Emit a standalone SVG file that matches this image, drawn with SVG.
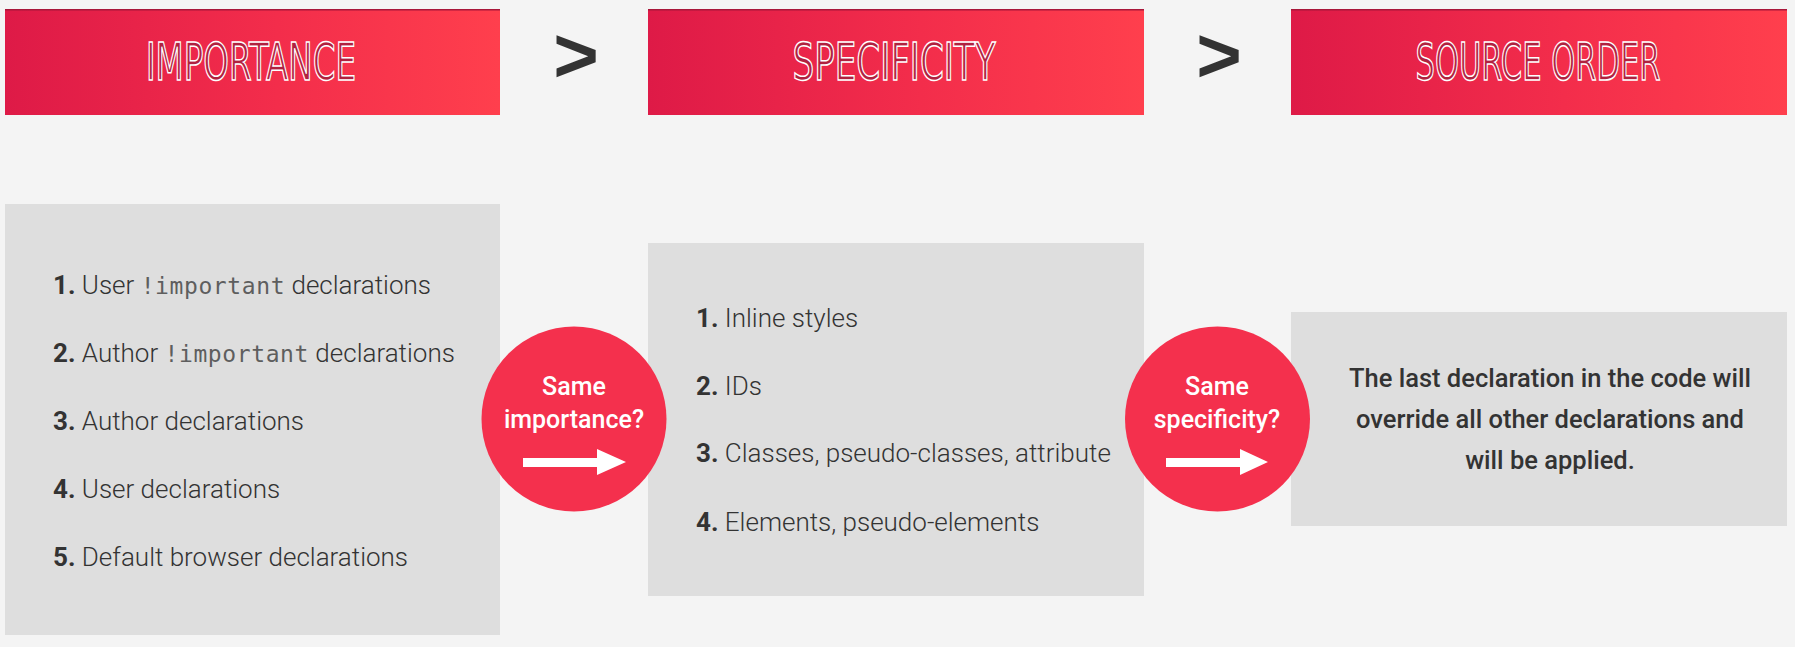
<svg xmlns="http://www.w3.org/2000/svg" width="1795" height="647" viewBox="0 0 1795 647">
  <defs>
    <linearGradient id="hdrGrad" x1="0" y1="0" x2="1" y2="0">
      <stop offset="0" stop-color="#de1a47"/>
      <stop offset="0.55" stop-color="#f32d4b"/>
      <stop offset="1" stop-color="#ff3f4d"/>
    </linearGradient>
  </defs>
  <style>
    .hdr { fill: url(#hdrGrad); }
    .hdr-edge { fill: #a8173a; }
    .hdr-txt { font-family: "Liberation Sans Narrow", "DejaVu Sans Condensed", "Liberation Sans", sans-serif; font-size: 52px; fill: #b0213f; stroke: #ffffff; stroke-width: 1.5; text-anchor: middle; }
    .gt { font-family: "Liberation Sans", Arial, sans-serif; font-weight: 700; font-size: 78px; fill: #333333; text-anchor: middle; }
    .panel { fill: #dedede; }
    .item { font-family: Roboto, "Noto Sans", sans-serif; font-weight: 300; font-size: 26px; fill: #333333; }
    .num { font-weight: 700; }
    .code { font-family: "DejaVu Sans Mono", "Liberation Mono", monospace; font-size: 23px; fill: #5e5e5e; font-weight: 400; letter-spacing: 0.6px; }
    .bubble { fill: #f4304d; }
    .btxt { font-family: Roboto, "Noto Sans", sans-serif; font-weight: 500; font-size: 25px; fill: #ffffff; text-anchor: middle; }
    .arrow { fill: #ffffff; }
    .note { font-family: Roboto, "Noto Sans", sans-serif; font-weight: 500; font-size: 25.5px; fill: #333333; text-anchor: middle; }
  </style>

  <rect width="1795" height="647" fill="#f4f4f4"/>

  <!-- column headers -->
  <g id="hdr-importance">
    <rect class="hdr" x="5" y="9" width="495" height="106"/>
    <rect class="hdr-edge" x="5" y="9" width="495" height="1.5"/>
    <text class="hdr-txt" x="251" y="80" textLength="210" lengthAdjust="spacingAndGlyphs">IMPORTANCE</text>
  </g>
  <g id="gt-1">
    <text class="gt" x="576" y="82">&gt;</text>
  </g>
  <g id="hdr-specificity">
    <rect class="hdr" x="648" y="9" width="496" height="106"/>
    <rect class="hdr-edge" x="648" y="9" width="496" height="1.5"/>
    <text class="hdr-txt" x="894" y="80" textLength="203" lengthAdjust="spacingAndGlyphs">SPECIFICITY</text>
  </g>
  <g id="gt-2">
    <text class="gt" x="1219" y="82">&gt;</text>
  </g>
  <g id="hdr-source-order">
    <rect class="hdr" x="1291" y="9" width="496" height="106"/>
    <rect class="hdr-edge" x="1291" y="9" width="496" height="1.5"/>
    <text class="hdr-txt" x="1538" y="80" textLength="245" lengthAdjust="spacingAndGlyphs">SOURCE ORDER</text>
  </g>

  <!-- importance list -->
  <g id="panel-importance">
    <rect class="panel" x="5" y="204" width="495" height="431"/>
    <text class="item" x="53" y="294"><tspan class="num">1.</tspan> User <tspan class="code">!important</tspan> declarations</text>
    <text class="item" x="53" y="362"><tspan class="num">2.</tspan> Author <tspan class="code">!important</tspan> declarations</text>
    <text class="item" x="53" y="430"><tspan class="num">3.</tspan> Author declarations</text>
    <text class="item" x="53" y="498"><tspan class="num">4.</tspan> User declarations</text>
    <text class="item" x="53" y="566"><tspan class="num">5.</tspan> Default browser declarations</text>
  </g>

  <!-- specificity list -->
  <g id="panel-specificity">
    <rect class="panel" x="648" y="243" width="496" height="353"/>
    <text class="item" x="696" y="327"><tspan class="num">1.</tspan> Inline styles</text>
    <text class="item" x="696" y="395"><tspan class="num">2.</tspan> IDs</text>
    <text class="item" x="696" y="462"><tspan class="num">3.</tspan> Classes, pseudo-classes, attribute</text>
    <text class="item" x="696" y="531"><tspan class="num">4.</tspan> Elements, pseudo-elements</text>
  </g>

  <!-- source order note -->
  <g id="panel-source-order">
    <rect class="panel" x="1291" y="312" width="496" height="214"/>
    <text class="note" x="1550" y="387">The last declaration in the code will</text>
    <text class="note" x="1550" y="428">override all other declarations and</text>
    <text class="note" x="1550" y="469">will be applied.</text>
  </g>

  <!-- tie-break bubbles -->
  <g id="bubble-importance">
    <circle class="bubble" cx="574" cy="419" r="92.5"/>
    <text class="btxt" x="574" y="395">Same</text>
    <text class="btxt" x="574" y="428">importance?</text>
    <polygon class="arrow" points="523,458 597,458 597,449 626,462 597,475 597,467 523,467"/>
  </g>
  <g id="bubble-specificity">
    <circle class="bubble" cx="1217.5" cy="419" r="92.5"/>
    <text class="btxt" x="1217" y="395">Same</text>
    <text class="btxt" x="1217" y="428">specificity?</text>
    <polygon class="arrow" points="1166,458 1240,458 1240,449 1268,462 1240,475 1240,467 1166,467"/>
  </g>
</svg>
